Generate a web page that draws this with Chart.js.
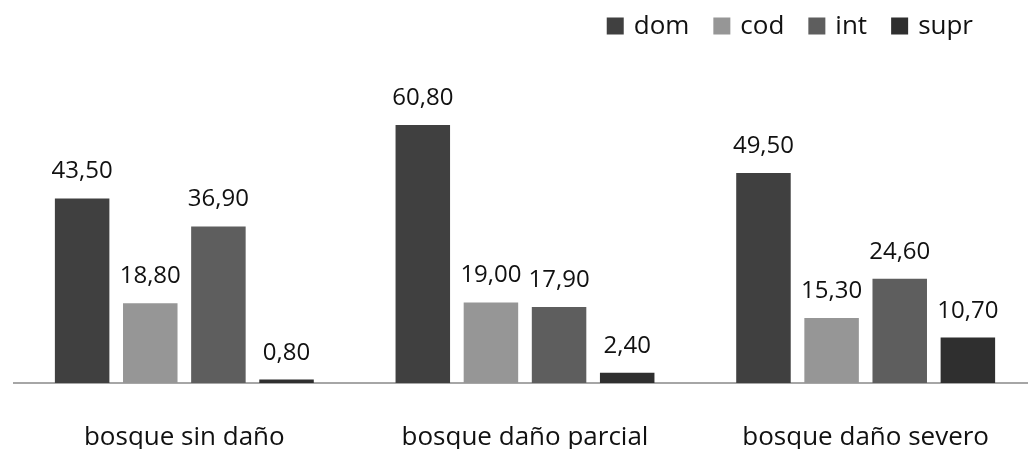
<!DOCTYPE html>
<html>
<head>
<meta charset="utf-8">
<script src="https://cdn.jsdelivr.net/npm/chart.js@4.4.1/dist/chart.umd.min.js"></script>
<style>
  html, body { margin: 0; padding: 0; background: #ffffff; overflow: hidden; }
  #wrap { width: 1028px; height: 449px; position: relative; overflow: hidden; }
  #c { display: block; }
</style>
</head>
<body>
<div id="wrap"><canvas id="c" width="1036" height="449"></canvas></div>
<script>
// Forest condition categories and crown-class percentages
const categories = ['bosque sin daño', 'bosque daño parcial', 'bosque daño severo'];
const seriesNames = ['dom', 'cod', 'int', 'supr'];
const dom  = [43.5, 60.8, 49.5];
const cod  = [18.8, 19.0, 15.3];
const int_ = [36.9, 17.9, 24.6];
const supr = [0.8, 2.4, 10.7];
const seriesColors = ['#404040', '#969696', '#5e5e5e', '#2f2f2f'];

const FONT = '"Open Sans", "DejaVu Sans", sans-serif';

// Draws the value above each bar with a decimal comma
const valueLabels = {
  id: 'valueLabels',
  afterDatasetsDraw(chart) {
    const ctx = chart.ctx;
    ctx.save();
    ctx.font = '24px ' + FONT;
    ctx.fillStyle = '#111111';
    ctx.textAlign = 'center';
    ctx.textBaseline = 'alphabetic';
    chart.data.datasets.forEach((ds, i) => {
      const meta = chart.getDatasetMeta(i);
      meta.data.forEach((bar, j) => {
        const txt = ds.data[j].toFixed(2).replace('.', ',');
        ctx.fillText(txt, bar.x, bar.y - 20);
      });
    });
    ctx.restore();
  }
};

// Compact legend in the upper right: square swatch followed by the series name
const cornerLegend = {
  id: 'cornerLegend',
  afterDraw(chart) {
    const ctx = chart.ctx;
    const box = 17, gapText = 10, gapItem = 24, rightEdge = 973, cy = 26;
    ctx.save();
    ctx.font = '26px ' + FONT;
    ctx.textBaseline = 'middle';
    ctx.textAlign = 'left';
    const items = chart.data.datasets.map(ds => ({
      label: ds.label, color: ds.backgroundColor, w: ctx.measureText(ds.label).width
    }));
    let total = 0;
    items.forEach((it, k) => { total += box + gapText + it.w + (k ? gapItem : 0); });
    let x = rightEdge - total;
    items.forEach(it => {
      ctx.fillStyle = it.color;
      ctx.fillRect(x, cy - box / 2, box, box);
      x += box + gapText;
      ctx.fillStyle = '#111111';
      ctx.fillText(it.label, x, cy + 1);
      x += it.w + gapItem;
    });
    ctx.restore();
  }
};

const datasets = [dom, cod, int_, supr].map((vals, i) => ({
  label: seriesNames[i],
  data: vals,
  backgroundColor: seriesColors[i],
  borderWidth: 0,
  categoryPercentage: 0.8,
  barPercentage: 0.8
}));

new Chart(document.getElementById('c'), {
  type: 'bar',
  data: { labels: categories, datasets },
  plugins: [valueLabels, cornerLegend],
  options: {
    responsive: false,
    animation: false,
    devicePixelRatio: 1,
    layout: { padding: { left: 14, right: 0, top: 86, bottom: 0 } },
    plugins: {
      legend: { display: false },
      tooltip: { enabled: false }
    },
    scales: {
      x: {
        grid: { display: false },
        border: { display: true, color: '#a6a6a6', width: 2 },
        ticks: { color: '#111111', padding: 34, font: { family: FONT, size: 26, lineHeight: 1 } },
        afterFit(scale) { scale.height = 66; }
      },
      y: {
        display: false,
        min: 0,
        max: 70
      }
    }
  }
});
</script>
</body>
</html>
